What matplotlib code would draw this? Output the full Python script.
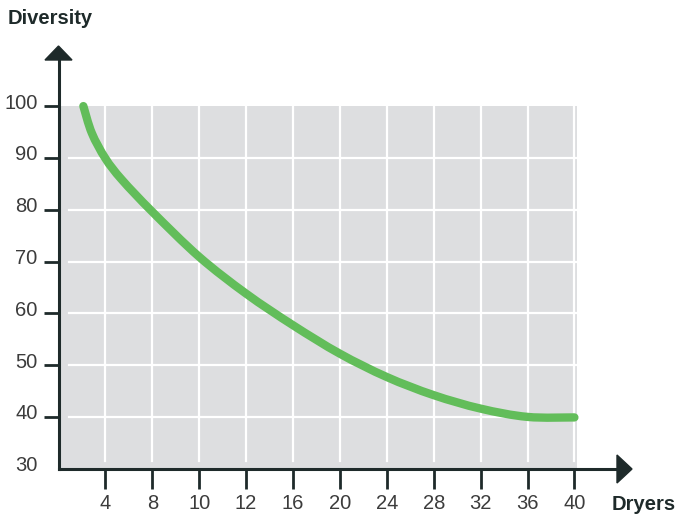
import numpy as np
import matplotlib.pyplot as plt
from matplotlib.patches import Polygon, PathPatch
from matplotlib.path import Path
import matplotlib.transforms as mtransforms

# x tick categories (equally spaced on the axis)
dryer_labels = ['4', '8', '10', '12', '16', '20', '24', '28', '32', '36', '40']
y_ticks = [30, 40, 50, 60, 70, 80, 90, 100]

# curve (x in category position units)
curve_x = [0.53, 0.71, 1, 1.35, 2, 3, 4, 5, 6, 7, 8, 9, 10, 11]
curve_y = [100, 94.8, 89.9, 85.8, 79.6, 70.9, 63.8, 57.7, 52.2, 47.7, 44.2, 41.6, 40.0, 39.9]

W, H = 680, 514
fig = plt.figure(figsize=(W / 100, H / 100), dpi=100)
plt.rcParams['font.family'] = ['Liberation Sans', 'DejaVu Sans']

# axes placement: x index 0 at px 58.5, 46.9 px per unit; y 30 at px 468.7, 5.18 px per unit
xpx, ypx = 46.9, 5.18
x0, y0 = 58.5, 468.7
xmax, ymax = 12.5, 112
ax = fig.add_axes([x0 / W, (H - y0) / H, xmax * xpx / W, (ymax - 30) * ypx / H])
ax.set_xlim(0, xmax)
ax.set_ylim(30, ymax)
for s in ax.spines.values():
    s.set_visible(False)
ax.patch.set_alpha(0)

gray = '#dddee0'
dark = '#1e2a2a'
right = 11.05
ax.fill_between([0, right], 30, 100, color=gray, lw=0, zorder=0)
xpos = np.arange(1, len(dryer_labels) + 1)
for xv in xpos:
    ax.plot([xv, xv], [31.5, 100], color='white', lw=1.6, zorder=1)
for yv in y_ticks[1:-1]:
    ax.plot([0.23, right], [yv, yv], color='white', lw=1.6, zorder=1)

# smooth curve through the read points (Catmull-Rom as cubic Bezier path)
pts = np.column_stack([curve_x, curve_y])
verts = [pts[0]]
codes = [Path.MOVETO]
for i in range(len(pts) - 1):
    p0 = pts[max(i - 1, 0)]
    p1 = pts[i]
    p2 = pts[i + 1]
    p3 = pts[min(i + 2, len(pts) - 1)]
    verts += [p1 + (p2 - p0) / 6, p2 - (p3 - p1) / 6, p2]
    codes += [Path.CURVE4] * 3
ax.add_patch(PathPatch(Path(verts, codes), facecolor='none', edgecolor='#62bd5a',
                       lw=6, capstyle='round', zorder=3))

# axis lines
ax.plot([0, 12.05], [30, 30], color=dark, lw=2.2, clip_on=False, zorder=4)
ax.plot([0, 0], [30, 109], color=dark, lw=2.2, clip_on=False, zorder=4)

def px(x, y):
    return (x / W, 1 - y / H)

fig.patches.append(Polygon([px(45, 60), px(72, 60), px(58.5, 46)], closed=True,
                           transform=fig.transFigure, color=dark))
fig.patches.append(Polygon([px(617, 455), px(617, 483), px(632, 469)], closed=True,
                           transform=fig.transFigure, color=dark))

ax.set_xticks(xpos)
ax.set_xticklabels(dryer_labels)
ax.set_yticks(y_ticks)
ax.set_yticklabels([str(v) for v in y_ticks])
ax.tick_params(axis='x', length=14.5, width=2, color=dark, pad=4,
               labelsize=14.5, labelcolor='#3c3c3c')
ax.tick_params(axis='y', length=11, width=2, color=dark, pad=4,
               labelsize=14.5, labelcolor='#3c3c3c')
ax.yaxis.get_major_ticks()[0].tick1line.set_visible(False)
off = mtransforms.ScaledTranslation(0, 5 / 100, fig.dpi_scale_trans)
for lab in ax.get_yticklabels():
    lab.set_transform(lab.get_transform() + off)

fig.text(8 / W, 1 - 18 / H, 'Diversity', fontsize=14.5, fontweight='bold',
         color='#1e2a2a', va='center', ha='left')
fig.text(612 / W, 1 - 504 / H, 'Dryers', fontsize=14.5, fontweight='bold',
         color='#1e2a2a', va='center', ha='left')

fig.savefig('out.png', dpi=100)
